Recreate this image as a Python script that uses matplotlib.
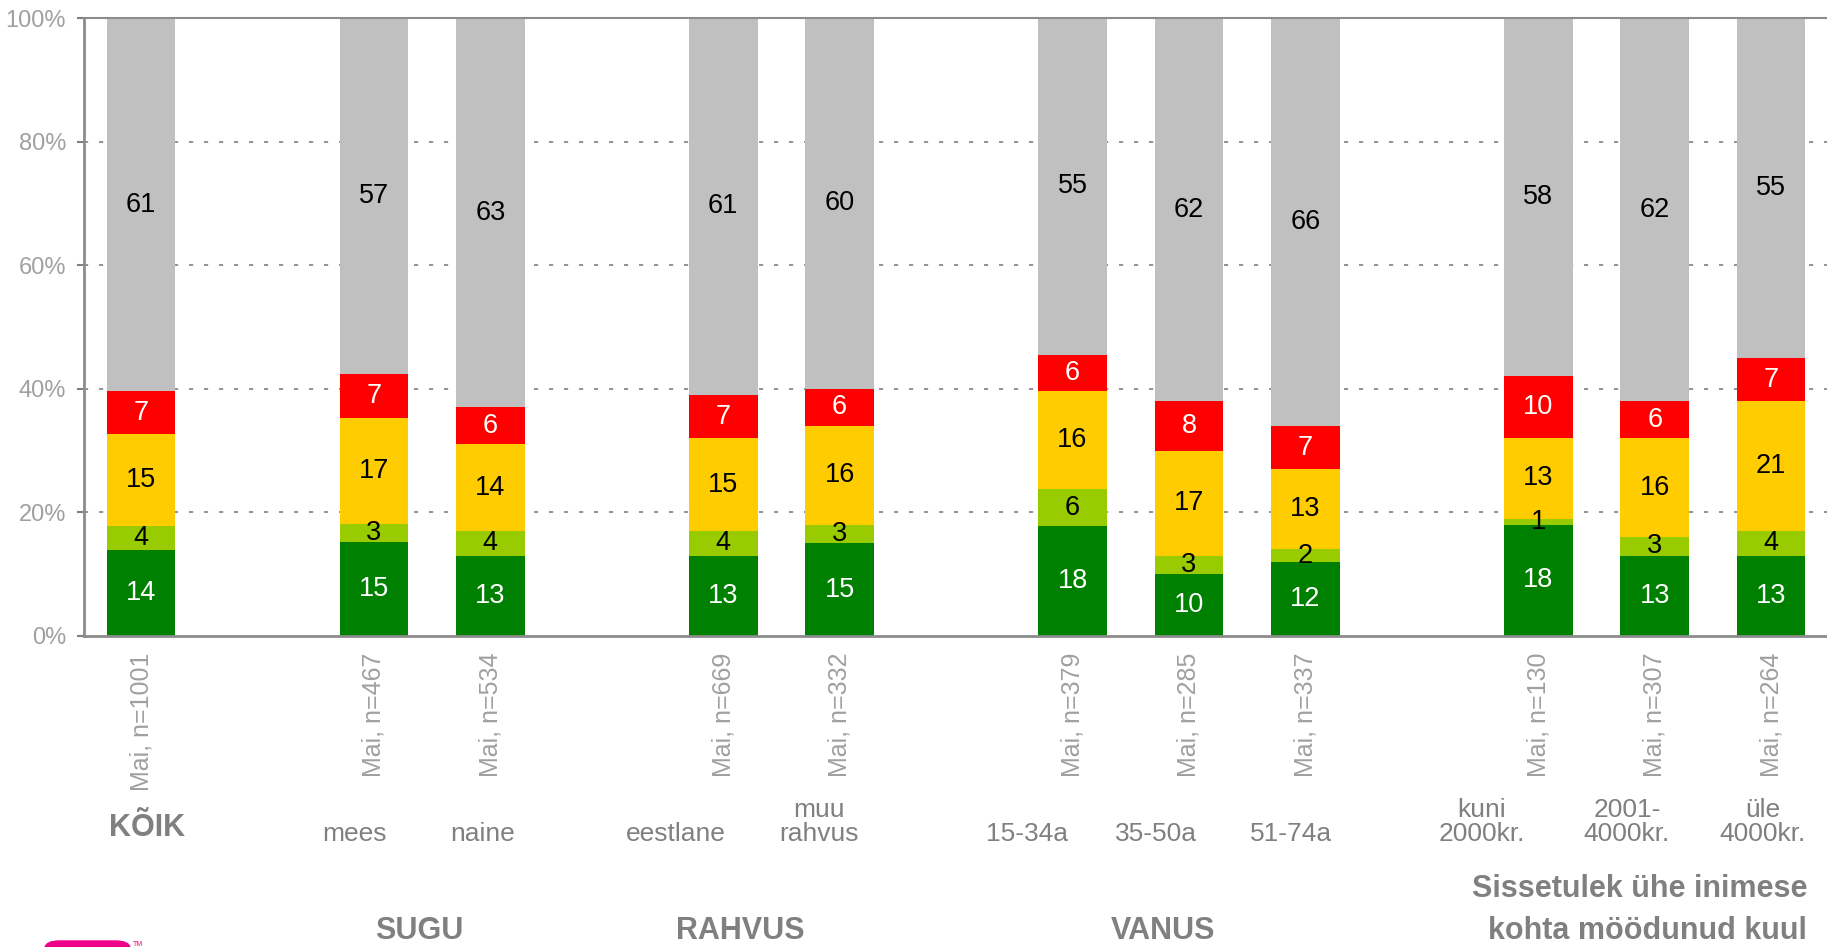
import numpy as np
import matplotlib
matplotlib.use("Agg")
import matplotlib.pyplot as plt
from matplotlib.patches import FancyBboxPatch

plt.rcParams['font.family'] = ['Liberation Sans', 'DejaVu Sans']

# slot positions of the bars along the x axis (gaps between groups)
positions = [0, 2, 3, 5, 6, 8, 9, 10, 12, 13, 14]
tick_labels = ["Mai, n=1001", "Mai, n=467", "Mai, n=534", "Mai, n=669", "Mai, n=332",
               "Mai, n=379", "Mai, n=285", "Mai, n=337", "Mai, n=130", "Mai, n=307",
               "Mai, n=264"]

# stacked segments, bottom to top
green = [14, 15, 13, 13, 15, 18, 10, 12, 18, 13, 13]
light_green = [4, 3, 4, 4, 3, 6, 3, 2, 1, 3, 4]
yellow = [15, 17, 14, 15, 16, 16, 17, 13, 13, 16, 21]
red = [7, 7, 6, 7, 6, 6, 8, 7, 10, 6, 7]
grey = [61, 57, 63, 61, 60, 55, 62, 66, 58, 62, 55]

series = [green, light_green, yellow, red, grey]
colors = ["#008000", "#99cc00", "#ffcc00", "#ff0000", "#c0c0c0"]
text_colors = ["white", "black", "black", "white", "black"]

sub_labels = ["mees", "naine", "eestlane", "muu\nrahvus", "15-34a", "35-50a", "51-74a",
              "kuni\n2000kr.", "2001-\n4000kr.", "üle\n4000kr."]
group_labels = ["SUGU", "RAHVUS", "VANUS"]

W, H = 1827, 947
fig = plt.figure(figsize=(W / 100, H / 100), dpi=100)
# axes run past the right edge of the picture, as in the original
ax = fig.add_axes([84 / W, (H - 636) / H, (1841 - 84) / W, (636 - 18) / H])

data = np.array(series, dtype=float)
pct = data / data.sum(axis=0) * 100
bottom = np.zeros(len(positions))
for vals, pvals, col, tcol in zip(series, pct, colors, text_colors):
    ax.bar(positions, pvals, bottom=bottom, width=0.59, color=col, zorder=2)
    for x, b, p, v in zip(positions, bottom, pvals, vals):
        ax.text(x, b + p / 2, str(v), ha='center', va='center', color=tcol,
                fontsize=19.5, zorder=3)
    bottom += pvals

ax.set_xlim(-0.49, 14.6)
ax.set_ylim(0, 100)
ax.set_yticks([0, 20, 40, 60, 80, 100])
ax.set_yticklabels(["0%", "20%", "40%", "60%", "80%", "100%"])
ax.set_xticks(positions)
ax.set_xticklabels(tick_labels, rotation=90, va='top', ha='center')
ax.tick_params(axis='x', length=0, pad=12, labelsize=18, labelcolor='#a0a0a0')
ax.tick_params(axis='y', length=5, width=1.5, color='#808080', pad=8,
               labelsize=17, labelcolor='#a0a0a0')

for y in [20, 40, 60, 80, 100]:
    ax.axhline(y, color='#808080', lw=1.2, ls=(0, (2.5, 6.5)), zorder=1)

for side in ['left', 'bottom', 'top']:
    ax.spines[side].set_color('#8c8c8c')
    ax.spines[side].set_linewidth(2)
ax.spines['top'].set_linewidth(1.5)
ax.spines['right'].set_visible(False)

grey_txt = '#808080'
# category names under the tick labels
sub_x = [354, 483, 676, 819, 1027, 1156, 1291, 1482, 1627, 1763]
for lbl, px in zip(sub_labels, sub_x):
    fig.text(px / W, (H - 846) / H, lbl, ha='center', va='bottom', fontsize=19,
             color=grey_txt, linespacing=1.0)

fig.text(147 / W, (H - 828) / H, "KÕIK", ha='center', va='center', fontsize=22,
         fontweight='bold', color=grey_txt)

group_x = [419, 740, 1163]
for lbl, px in zip(group_labels, group_x):
    fig.text(px / W, (H - 931) / H, lbl, ha='center', va='center', fontsize=22,
             fontweight='bold', color=grey_txt)

fig.text(1807 / W, (H - 889) / H, "Sissetulek ühe inimese", ha='right', va='center',
         fontsize=22, fontweight='bold', color=grey_txt)
fig.text(1807 / W, (H - 931) / H, "kohta möödunud kuul", ha='right', va='center',
         fontsize=22, fontweight='bold', color=grey_txt)

# bit of the logo peeking in at the bottom left
logo = FancyBboxPatch((45 / W, -20 / H), 85 / W, 26 / H,
                      boxstyle="round,pad=0,rounding_size=0.008",
                      transform=fig.transFigure, color='#f0008a', clip_on=False)
fig.patches.append(logo)
fig.text(133 / W, (H - 944) / H, "TM", fontsize=5, color='#f0008a', va='center')

fig.savefig("out.png", dpi=100)
